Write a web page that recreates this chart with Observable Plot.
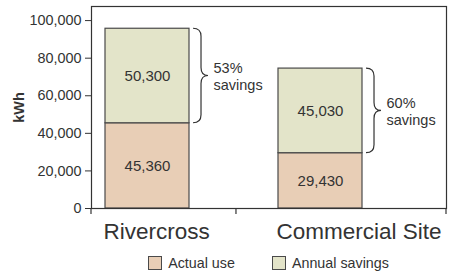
<!DOCTYPE html>
<html>
<head>
<meta charset="utf-8">
<script src="https://cdn.jsdelivr.net/npm/d3@7"></script>
<script src="https://cdn.jsdelivr.net/npm/@observablehq/plot@0.6"></script>
<style>
  html, body { margin: 0; padding: 0; background: #fff; overflow: hidden; }
  body { font-family: "Liberation Sans", Arial, Helvetica, sans-serif; color: #333; }
  #chart { width: 449px; }
  g[aria-label="y-axis label"] text { font-weight: bold; }
  .legend { box-sizing: border-box; margin-left: 91px; width: 355px; height: 24px; padding-top: 6px;
            display: flex; justify-content: center; align-items: center; gap: 37px; font-size: 14.3px; color: #333; }
  .legend .item { display: flex; align-items: center; gap: 6px; }
  .legend .sw { width: 12px; height: 12px; border: 1px solid #4a4a4a; }
</style>
</head>
<body>
<div id="chart"></div>
<script>
// ---- data ----
const sites = ["Rivercross", "Commercial Site"];
const actualUse = [45360, 29430];
const annualSavings = [50300, 45030];
const savingsShare = ["53%", "60%"];
const seriesNames = ["Actual use", "Annual savings"];
const yTickValues = [0, 20000, 40000, 60000, 80000, 100000];
const yLabel = "kWh";

// ---- styles ----
const palette = ["#e8ceb6", "#e3e4c9"];
const ink = "#333";
const barStroke = "#4a4a4a";

const rows = sites.flatMap((site, i) => [
  {site, series: seriesNames[0], value: actualUse[i]},
  {site, series: seriesNames[1], value: annualSavings[i]}
]);
const braces = sites.map((site, i) => ({
  site,
  low: actualUse[i],
  high: actualUse[i] + annualSavings[i],
  mid: actualUse[i] + annualSavings[i] / 2,
  label: savingsShare[i] + "\nsavings"
}));

const W = 449, H = 248, mL = 91, mR = 3, mT = 6, mB = 40;
const xOpts = {type: "band", domain: sites, paddingInner: 0.517, paddingOuter: 0.279, align: 0.144};
const xs = Plot.scale({x: {...xOpts, range: [mL, W - mR]}});
const bw = xs.bandwidth, step = xs.step;
const fmt = d3.format(",");

const braceMark = Plot.dot(braces, {
  x: "site", y: "mid",
  render(index, scales, values, dimensions, context) {
    const g = d3.select(context.document.createElementNS("http://www.w3.org/2000/svg", "g"));
    for (const i of index) {
      const d = braces[i];
      const x0 = scales.x(d.site) + bw + 4;
      const yT = scales.y(d.high), yB = scales.y(d.low), yM = (yT + yB) / 2;
      const r = 8, xv = x0 + 8, xt = x0 + 15;
      const p = `M${x0},${yT}Q${xv},${yT} ${xv},${yT + r}L${xv},${yM - r}Q${xv},${yM} ${xt},${yM}` +
                `Q${xv},${yM} ${xv},${yM + r}L${xv},${yB - r}Q${xv},${yB} ${x0},${yB}`;
      g.append("path").attr("d", p).attr("fill", "none").attr("stroke", ink).attr("stroke-width", 1.2);
    }
    return g.node();
  }
});

const boundaryTicks = Plot.ruleX(sites, {
  x: d => d,
  render(index, scales, values, dimensions, context) {
    const g = d3.select(context.document.createElementNS("http://www.w3.org/2000/svg", "g"));
    const y0 = dimensions.height - dimensions.marginBottom;
    const xsPos = [dimensions.marginLeft];
    for (let k = 0; k < sites.length - 1; k++) xsPos.push(scales.x(sites[k]) + bw + (step - bw) / 2 + 2);
    xsPos.push(dimensions.width - dimensions.marginRight);
    for (const x of xsPos) {
      g.append("line").attr("x1", x).attr("x2", x).attr("y1", y0).attr("y2", y0 + 6)
        .attr("stroke", ink).attr("stroke-width", 1.2);
    }
    return g.node();
  }
});

const chart = Plot.plot({
  width: W, height: H,
  marginLeft: mL, marginRight: mR, marginTop: mT, marginBottom: mB,
  style: {fontFamily: '"Liberation Sans", Arial, Helvetica, sans-serif', fontSize: "14px", color: ink, background: "#fff", overflow: "visible"},
  x: xOpts,
  y: {domain: [0, 107500]},
  color: {domain: seriesNames, range: palette},
  marks: [
    Plot.barY(rows, {x: "site", y: "value", fill: "series", stroke: barStroke, strokeWidth: 1.2}),
    Plot.text(rows, Plot.stackY({x: "site", y: "value", text: d => fmt(d.value), fill: ink, fontSize: 15})),
    braceMark,
    Plot.text(braces, {x: "site", y: "mid", text: "label", textAnchor: "start", dx: bw / 2 + 24,
                       lineHeight: 1.17, fill: ink, fontSize: 14.5}),
    Plot.frame({stroke: ink, strokeWidth: 1.2}),
    Plot.axisY({ticks: yTickValues, tickFormat: fmt, tickSize: 6, tickPadding: 4, label: yLabel,
                labelAnchor: "center", labelArrow: false, labelOffset: 78, fontSize: 14.4}),
    Plot.axisX({tickSize: 0, tickPadding: 15, fontSize: 22.5, label: null, textAnchor: "start", dx: -bw / 2 - 2}),
    boundaryTicks
  ]
});
document.getElementById("chart").appendChild(chart);

// legend
const legend = d3.select("body").append("div").attr("class", "legend");
seriesNames.forEach((name, i) => {
  const item = legend.append("div").attr("class", "item");
  item.append("span").attr("class", "sw").style("background", palette[i]);
  item.append("span").text(name);
});
</script>
</body>
</html>
